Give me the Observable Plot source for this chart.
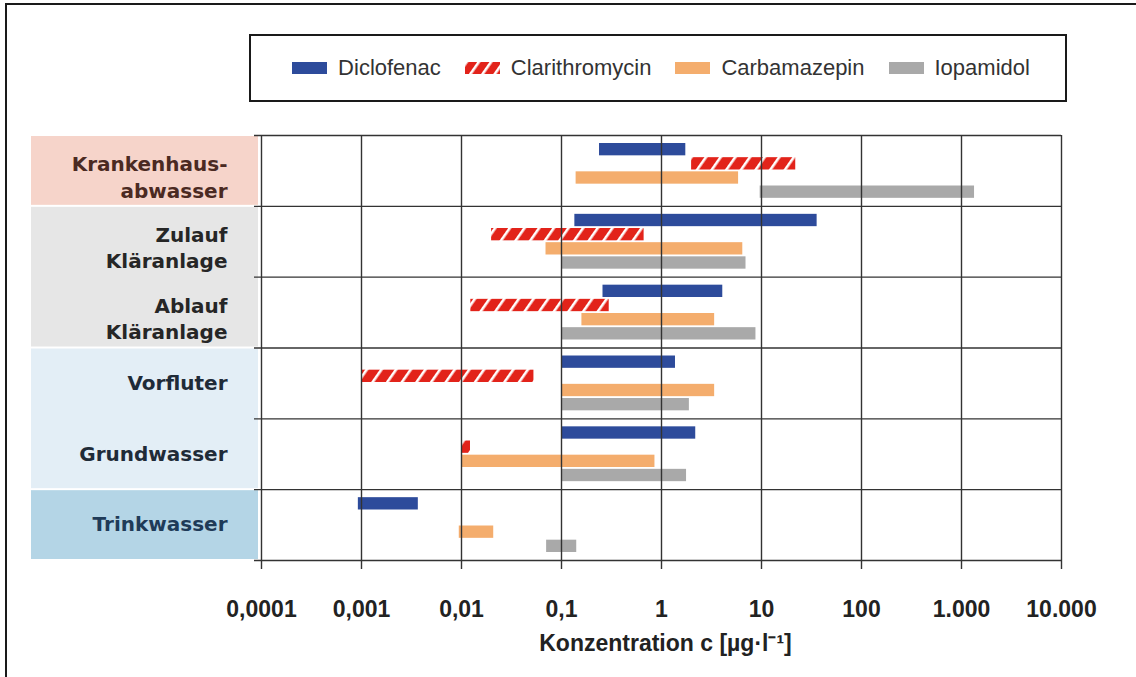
<!DOCTYPE html>
<html><head><meta charset="utf-8">
<script src="https://cdn.jsdelivr.net/npm/d3@7"></script>
<script src="https://cdn.jsdelivr.net/npm/@observablehq/plot@0.6"></script>
<style>
html,body{margin:0;padding:0;background:#fff;}
#fig{position:relative;width:1136px;height:677px;overflow:hidden;font-family:"Liberation Sans",Arial,sans-serif;}
#frame{position:absolute;left:5px;top:3px;right:-4px;bottom:-4px;border-top:2px solid #1a1a1a;border-left:2px solid #1a1a1a;}
#legend{position:absolute;left:249px;top:34px;width:808px;height:64px;border:2px solid #1a1a1a;display:flex;align-items:center;justify-content:center;gap:24px;font-size:22px;color:#333;padding-left:6px;box-sizing:content-box;}
.item{display:flex;align-items:center;}
.item svg{margin-right:11px;display:block;}
#chart{position:absolute;left:0;top:117px;}
#chart g[aria-label="x-axis tick label"] text{font-weight:bold;}
</style></head><body>
<div id="fig"><div id="frame"></div><div id="legend"></div><div id="chart"></div></div>
<script>
// ---- data ----
const rowLabels = ["Krankenhaus-\nabwasser", "Zulauf\nKläranlage", "Ablauf\nKläranlage", "Vorfluter", "Grundwasser", "Trinkwasser"];
const substances = ["Diclofenac", "Clarithromycin", "Carbamazepin", "Iopamidol"];

const diclofenacMin = [0.24, 0.136, 0.26, 0.1, 0.1, 0.00093];
const diclofenacMax = [1.75, 36, 4.1, 1.38, 2.2, 0.0037];
const clarithromycinMin = [2.0, 0.02, 0.0124, 0.001, 0.01, null];
const clarithromycinMax = [22, 0.67, 0.30, 0.053, 0.0123, null];
const carbamazepinMin = [0.14, 0.07, 0.16, 0.1, 0.01, 0.0095];
const carbamazepinMax = [5.9, 6.5, 3.4, 3.4, 0.86, 0.021];
const iopamidolMin = [9.7, 0.1, 0.1, 0.1, 0.1, 0.071];
const iopamidolMax = [1350, 7.0, 8.8, 1.9, 1.78, 0.142];

const tickValues = [1e-4, 1e-3, 1e-2, 1e-1, 1, 10, 100, 1000, 10000];
const tickLabels = ["0,0001", "0,001", "0,01", "0,1", "1", "10", "100", "1.000", "10.000"];
const axisTitle = "Konzentration c [µg·l⁻¹]";

// category groups (background panels)
const panelFirstRow = [0, 1, 3, 5];
const panelLastRow = [0, 2, 4, 5];

// ---- styles ----
const substanceColors = ["#2d4b9b", "url(#hatch)", "#f4ad6d", "#a9a9a9"];
const panelColors = ["#f6d4ca", "#e6e6e6", "#e3eef6", "#b4d5e6"];
const rowTextColors = ["#4b2a22", "#262626", "#262626", "#1f2b38", "#1f2b38", "#1f3b58"];
const gridColor = "#333333";

// ---- build tables ----
const mins = [diclofenacMin, clarithromycinMin, carbamazepinMin, iopamidolMin];
const maxs = [diclofenacMax, clarithromycinMax, carbamazepinMax, iopamidolMax];
const bars = [];
substances.forEach((s, si) => rowLabels.forEach((r, ri) => {
  const lo = mins[si][ri], hi = maxs[si][ri];
  if (lo != null && hi != null) bars.push({row: ri, s: si, substance: s, lo, hi});
}));
const panels = panelFirstRow.map((f, i) => ({start: f, end: panelLastRow[i] + 1, color: panelColors[i]}));
const labels = rowLabels.map((l, i) => ({row: i, label: l, color: rowTextColors[i], two: l.includes("\n")}));

const slot = (d) => d.row + (d.s + 1) / 5;
const half = 0.087;

const chart = Plot.plot({
  width: 1136, height: 560,
  marginLeft: 261, marginRight: 75, marginTop: 18, marginBottom: 117,
  x: {type: "log", domain: [1e-4, 1e4]},
  y: {domain: [0, 6], reverse: true, axis: null},
  color: {type: "identity"},
  style: {fontFamily: "Liberation Sans, Arial, sans-serif", background: "transparent", overflow: "visible"},
  marks: [
    ...panels.map(p => Plot.rect([p], {y1: "start", y2: "end", fill: p.color, insetLeft: -230, insetRight: 803, insetTop: 1, insetBottom: 1})),
    ...substances.map((s, si) => Plot.rect(bars.filter(d => d.s === si), {
      x1: "lo", x2: "hi", y1: d => slot(d) - half, y2: d => slot(d) + half, fill: substanceColors[si]
    })),
    Plot.ruleX(tickValues, {y1: 0, y2: 6, stroke: gridColor, strokeWidth: 1.4, insetBottom: -9}),
    Plot.ruleY(d3.range(rowLabels.length + 1), {x1: 1e-4, x2: 1e4, stroke: gridColor, strokeWidth: 1.4, insetLeft: -7}),
    Plot.text(labels.filter(d => !d.two), {y: d => d.row + 0.5, text: "label", fill: "color", frameAnchor: "left", textAnchor: "end", dx: -34, fontSize: 20, fontWeight: "bold", fontFamily: "DejaVu Sans"}),
    Plot.text(labels.filter(d => d.two), {y: d => d.row + 0.5, text: "label", fill: "color", frameAnchor: "left", textAnchor: "end", dx: -34, dy: 5, lineHeight: 1.32, fontSize: 20, fontWeight: "bold", fontFamily: "DejaVu Sans"}),
    Plot.axisX(tickValues, {tickFormat: d => tickLabels[tickValues.indexOf(d)], tickSize: 0, tickPadding: 40, fontSize: 23, fontWeight: "bold", fill: "#222", label: null}),
    Plot.text([axisTitle], {frameAnchor: "bottom", dy: 90, dx: 4, fontSize: 23, fontWeight: "bold", fill: "#222"})
  ]
});

d3.select(chart).insert("defs", ":first-child").html(
  '<pattern id="hatch" patternUnits="userSpaceOnUse" width="12" height="12" patternTransform="rotate(35)">' +
  '<rect width="12" height="12" fill="#e2231a"/><rect x="0" width="2.6" height="12" fill="#fff"/></pattern>');
document.getElementById("chart").appendChild(chart);

// ---- legend ----
const legend = d3.select("#legend");
substances.forEach((s, i) => {
  const it = legend.append("div").attr("class", "item");
  const sw = it.append("svg").attr("width", 35).attr("height", 12);
  if (substanceColors[i].startsWith("url")) {
    sw.append("defs").html('<pattern id="hatchL" patternUnits="userSpaceOnUse" width="10" height="10" patternTransform="rotate(35)"><rect width="10" height="10" fill="#e2231a"/><rect width="2.6" height="10" fill="#fff"/></pattern>');
    sw.append("rect").attr("width", 35).attr("height", 12).attr("fill", "url(#hatchL)");
  } else {
    sw.append("rect").attr("width", 35).attr("height", 12).attr("fill", substanceColors[i]);
  }
  it.append("span").text(s);
});
</script>
</body></html>
